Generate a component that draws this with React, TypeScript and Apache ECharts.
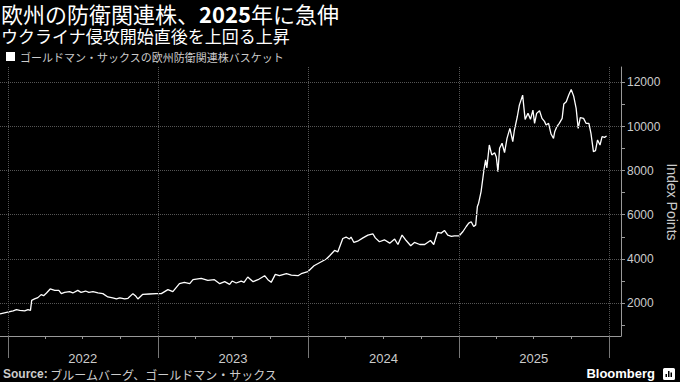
import React, { useEffect, useRef } from 'react';
import * as echarts from 'echarts';

const seriesName = 'ゴールドマン・サックスの欧州防衛関連株バスケット';
const titleParts = ['欧州の防衛関連株、', '2025', '年に急伸'];
const subtitle = 'ウクライナ侵攻開始直後を上回る上昇';
const yAxisName = 'Index Points';

const data2022: [string, number][] = [
  ['2021-12-13', 1502], ['2021-12-29', 1575], ['2022-01-14', 1638], ['2022-01-22', 1697],
  ['2022-01-30', 1665], ['2022-02-11', 1638], ['2022-02-19', 1697], ['2022-02-25', 1665],
  ['2022-02-28', 2118], ['2022-03-07', 2181], ['2022-03-15', 2240], ['2022-03-23', 2376],
  ['2022-03-29', 2330], ['2022-04-05', 2452], ['2022-04-14', 2634], ['2022-04-25', 2570],
  ['2022-05-05', 2570], ['2022-05-11', 2421], ['2022-05-19', 2480], ['2022-05-31', 2510],
  ['2022-06-08', 2452], ['2022-06-20', 2570], ['2022-06-28', 2480], ['2022-07-09', 2540],
  ['2022-07-17', 2480], ['2022-07-27', 2510], ['2022-08-08', 2452], ['2022-08-20', 2421],
  ['2022-09-01', 2271], ['2022-09-13', 2226], ['2022-09-22', 2181], ['2022-09-30', 2226],
  ['2022-10-12', 2181], ['2022-10-20', 2210], ['2022-11-01', 2421], ['2022-11-07', 2330],
  ['2022-11-13', 2181], ['2022-11-25', 2390], ['2022-12-11', 2405], ['2022-12-28', 2421],
];

const data2023: [string, number][] = [
  ['2023-01-09', 2421], ['2023-01-25', 2602], ['2023-02-06', 2511], ['2023-02-22', 2873],
  ['2023-03-06', 2932], ['2023-03-19', 2873], ['2023-03-27', 3054], ['2023-04-16', 3113],
  ['2023-05-02', 3023], ['2023-05-18', 3054], ['2023-05-31', 2873], ['2023-06-12', 2963],
  ['2023-06-24', 2842], ['2023-06-30', 2993], ['2023-07-10', 2903], ['2023-07-22', 2993],
  ['2023-07-29', 2933], ['2023-08-07', 3176], ['2023-08-20', 2963], ['2023-09-01', 3054],
  ['2023-09-17', 3235], ['2023-09-25', 3054], ['2023-10-03', 2933], ['2023-10-13', 3294],
  ['2023-10-23', 3235], ['2023-11-09', 3326], ['2023-11-21', 3265], ['2023-12-07', 3235],
  ['2023-12-15', 3326], ['2023-12-31', 3416],
];

const data2024: [string, number][] = [
  ['2024-01-15', 3688], ['2024-02-14', 3991], ['2024-02-22', 4140], ['2024-03-05', 4380],
  ['2024-03-13', 4320], ['2024-03-25', 4923], ['2024-04-02', 4987], ['2024-04-10', 4897],
  ['2024-04-14', 4987], ['2024-04-21', 4742], ['2024-04-30', 4800], ['2024-05-13', 4950],
  ['2024-05-25', 5077], ['2024-06-06', 5136], ['2024-06-12', 4950], ['2024-06-22', 4774],
  ['2024-07-04', 4862], ['2024-07-17', 4710], ['2024-07-29', 4897], ['2024-08-06', 4650],
  ['2024-08-16', 5077], ['2024-08-26', 4830], ['2024-09-06', 4593], ['2024-09-15', 4742],
  ['2024-09-28', 4650], ['2024-10-10', 4650], ['2024-10-24', 4830], ['2024-11-01', 4650],
  ['2024-11-10', 5196], ['2024-11-19', 5166], ['2024-11-27', 5286], ['2024-12-05', 5077],
  ['2024-12-14', 5017], ['2024-12-21', 5045],
];

const data2025: [string, number][] = [
  ['2025-01-02', 5045], ['2025-01-11', 5240], ['2025-01-19', 5466], ['2025-01-25', 5617],
  ['2025-01-31', 5680], ['2025-02-06', 5466], ['2025-02-11', 5540], ['2025-02-15', 6371],
  ['2025-02-18', 6525], ['2025-02-24', 7050], ['2025-03-03', 8032], ['2025-03-07', 8484],
  ['2025-03-10', 8122], ['2025-03-16', 9163], ['2025-03-22', 8711], ['2025-03-29', 8815],
  ['2025-04-02', 8620], ['2025-04-06', 7955], ['2025-04-10', 9013], ['2025-04-16', 9240],
  ['2025-04-22', 8815], ['2025-04-28', 9466], ['2025-05-05', 9919], ['2025-05-12', 9313],
  ['2025-05-16', 9842], ['2025-05-23', 10444], ['2025-05-28', 10973], ['2025-06-05', 11426],
  ['2025-06-11', 10326], ['2025-06-18', 10597], ['2025-06-24', 10326], ['2025-06-30', 10747],
  ['2025-07-04', 10145], ['2025-07-09', 10597], ['2025-07-16', 10715], ['2025-07-22', 10371],
  ['2025-07-28', 10234], ['2025-08-01', 10068], ['2025-08-07', 10145], ['2025-08-13', 9660],
  ['2025-08-19', 9466], ['2025-08-22', 9765], ['2025-08-27', 9991], ['2025-09-02', 10145],
  ['2025-09-09', 10371], ['2025-09-13', 11018], ['2025-09-19', 11122], ['2025-09-25', 11426],
  ['2025-10-01', 11683], ['2025-10-07', 11380], ['2025-10-13', 10824], ['2025-10-18', 9919],
  ['2025-10-23', 10400], ['2025-10-31', 10371], ['2025-11-06', 10145], ['2025-11-13', 10145],
  ['2025-11-18', 9693], ['2025-11-24', 8860], ['2025-11-29', 8905], ['2025-12-04', 9390],
  ['2025-12-10', 9163], ['2025-12-15', 9540], ['2025-12-21', 9510], ['2025-12-26', 9570],
];

const xMin = '2021-12-13';
const xMax = '2026-01-30';
const yearStarts = ['2022-01-01', '2023-01-01', '2024-01-01', '2025-01-01', '2026-01-01'];
const quarterStarts = [
  '2022-04-01', '2022-07-01', '2022-10-01', '2023-04-01', '2023-07-01', '2023-10-01',
  '2024-04-01', '2024-07-01', '2024-10-01', '2025-04-01', '2025-07-01', '2025-10-01',
];
const yearLabelDates = ['2022-07-02', '2023-07-02', '2024-07-02', '2025-07-02'];
const yMin = 500;
const yMax = 12700;
const yTickValues = [1000, 2000, 3000, 4000, 5000, 6000, 7000, 8000, 9000, 10000, 11000, 12000];
const yLabelValues = [2000, 4000, 6000, 8000, 10000, 12000];

const ts = (s: string) => {
  const [y, m, d] = s.split('-').map(Number);
  return Date.UTC(y, m - 1, d);
};

const CJK = '"Noto Sans CJK JP", "Noto Sans", sans-serif';
const LAT = '"Liberation Sans", Arial, sans-serif';

export default function App() {
  const ref = useRef<HTMLDivElement>(null);
  useEffect(() => {
    document.body.style.margin = '0';
    document.body.style.background = '#000';
    if (!ref.current) return;
    const chart = echarts.init(ref.current, undefined, { renderer: 'svg' });
    const allData = [...data2022, ...data2023, ...data2024, ...data2025].map(
      ([d, v]) => [ts(d), v]
    );
    const gridStyle = { color: '#555', type: 'dotted' as const, width: 1 };

    const fontReg = `22px ${CJK}`;
    const fontBold = `bold 22px ${CJK}`;
    const ctx = document.createElement('canvas').getContext('2d')!;
    ctx.font = fontReg;
    const w0 = ctx.measureText(titleParts[0]).width;
    ctx.font = fontBold;
    const w1 = ctx.measureText(titleParts[1]).width;
    const titleX = 1;
    const titleY = 13;

    chart.setOption({
      animation: false,
      backgroundColor: '#000',
      title: [
        {
          text: '{b|Source:} ブルームバーグ、ゴールドマン・サックス',
          left: 3,
          top: 368,
          padding: 0,
          textStyle: {
            color: '#ccc',
            fontSize: 12,
            fontWeight: 'normal',
            fontFamily: CJK,
            rich: {
              b: { color: '#ccc', fontSize: 12, fontWeight: 'bold', fontFamily: LAT },
            },
          },
        },
      ],
      legend: {
        left: 6,
        top: 51,
        padding: 0,
        icon: 'rect',
        itemWidth: 9,
        itemHeight: 9,
        itemGap: 5,
        textStyle: { color: '#ccc', fontSize: 11, fontFamily: CJK },
        data: [seriesName],
      },
      grid: {
        left: 0,
        right: 59,
        top: 67,
        bottom: 46,
        containLabel: false,
        outerBoundsMode: 'none',
      },
      xAxis: [
        {
          type: 'value',
          min: ts(xMin),
          max: ts(xMax),
          axisLine: { show: true, lineStyle: { color: '#999', width: 1 } },
          axisTick: {
            show: true,
            length: 22,
            customValues: yearStarts.map(ts),
            lineStyle: { color: '#777', width: 1 },
          },
          axisLabel: { show: false },
          splitLine: { show: false },
        },
        {
          type: 'value',
          min: ts(xMin),
          max: ts(xMax),
          position: 'bottom',
          axisLine: { show: false },
          axisTick: {
            show: true,
            length: 3,
            customValues: quarterStarts.map(ts),
            lineStyle: { color: '#999', width: 1 },
          },
          axisLabel: {
            show: true,
            customValues: yearLabelDates.map(ts),
            formatter: (v: number) => String(new Date(v).getUTCFullYear()),
            color: '#ccc',
            fontSize: 13,
            fontFamily: LAT,
            margin: 16,
          },
          splitLine: { show: false },
        },
      ],
      yAxis: {
        type: 'value',
        position: 'right',
        min: yMin,
        max: yMax,
        axisLine: { show: true, lineStyle: { color: '#999', width: 1 } },
        axisTick: {
          show: true,
          length: 4,
          customValues: yTickValues,
          lineStyle: { color: '#999' },
        },
        axisLabel: {
          show: true,
          customValues: yLabelValues,
          formatter: (v: number) => String(v),
          color: '#ccc',
          fontSize: 12,
          fontFamily: LAT,
          margin: 6,
        },
        splitLine: { show: false },
      },
      graphic: [
        {
          type: 'text',
          x: titleX,
          y: titleY,
          style: { text: titleParts[0], fill: '#fff', font: fontReg, verticalAlign: 'middle' },
        },
        {
          type: 'text',
          x: titleX + w0,
          y: titleY,
          style: { text: titleParts[1], fill: '#fff', font: fontBold, verticalAlign: 'middle' },
        },
        {
          type: 'text',
          x: titleX + w0 + w1,
          y: titleY,
          style: { text: titleParts[2], fill: '#fff', font: fontReg, verticalAlign: 'middle' },
        },
        {
          type: 'text',
          x: 1,
          y: 35,
          style: { text: subtitle, fill: '#fff', font: `17px ${CJK}`, verticalAlign: 'middle' },
        },
        {
          type: 'text',
          x: 672,
          y: 202,
          rotation: -Math.PI / 2,
          style: {
            text: yAxisName,
            fill: '#ccc',
            font: `14px ${LAT}`,
            align: 'center',
            verticalAlign: 'middle',
          },
        },
        {
          type: 'text',
          right: 25,
          top: 367,
          style: { text: 'Bloomberg', fill: '#fff', font: `bold 13px ${LAT}` },
        },
        {
          type: 'group',
          right: 5,
          top: 368,
          children: [
            { type: 'rect', shape: { x: 0, y: 0, width: 12, height: 12, r: 1.5 }, style: { fill: '#fff' } },
            { type: 'rect', shape: { x: 2.5, y: 6, width: 1.5, height: 3 }, style: { fill: '#000' } },
            { type: 'rect', shape: { x: 5, y: 3, width: 1.5, height: 6 }, style: { fill: '#000' } },
            { type: 'rect', shape: { x: 7.5, y: 4.5, width: 1.5, height: 4.5 }, style: { fill: '#000' } },
          ],
        },
      ],
      series: [
        {
          name: seriesName,
          type: 'line',
          xAxisIndex: 0,
          data: allData,
          showSymbol: false,
          symbol: 'none',
          color: '#fff',
          lineStyle: { color: '#fff', width: 1.3 },
          markLine: {
            silent: true,
            symbol: 'none',
            label: { show: false },
            lineStyle: gridStyle,
            emphasis: { disabled: true },
            data: [
              ...yearStarts.map((d) => ({ xAxis: ts(d) })),
              ...yLabelValues.map((v) => ({ yAxis: v })),
            ],
          },
        },
      ],
    });
    return () => chart.dispose();
  }, []);
  return (
    <div
      ref={ref}
      style={{ position: 'fixed', left: 0, top: 0, width: 680, height: 382, background: '#000' }}
    />
  );
}
